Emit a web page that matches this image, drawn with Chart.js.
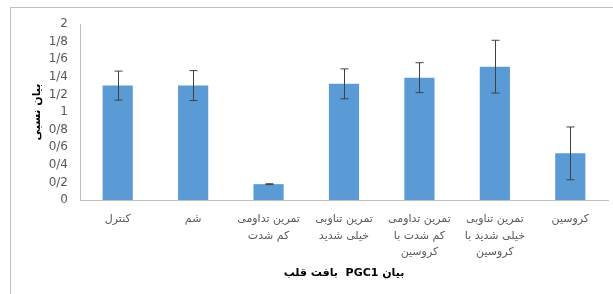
<!DOCTYPE html>
<html>
<head>
<meta charset="utf-8">
<script src="https://cdn.jsdelivr.net/npm/chart.js@4"></script>
<style>
  html, body { margin: 0; padding: 0; background: #fff; overflow: hidden; }
  #frame { position: absolute; left: 10px; top: 7px; width: 700px; height: 400px; border: 1px solid #bfbfbf; }
  #wrap { position: absolute; left: 0; top: 0; width: 613px; height: 294px; }
</style>
</head>
<body>
<div id="frame"></div>
<div id="wrap"><canvas id="myChart" dir="rtl" width="613" height="294"></canvas></div>
<script>
var groupLabels = [
    'کنترل',
    'شم',
    ['تمرین تداومی', 'کم شدت'],
    ['تمرین تناوبی', 'خیلی شدید'],
    ['تمرین تداومی', 'کم شدت با', 'کروسین'],
    ['تمرین تناوبی', 'خیلی شدید با', 'کروسین'],
    'کروسین'
];
var meanValues = [1.30, 1.30, 0.18, 1.32, 1.39, 1.515, 0.53];
var errorValues = [0.165, 0.17, 0.005, 0.17, 0.17, 0.30, 0.30];
var yTicks = [0, 0.2, 0.4, 0.6, 0.8, 1, 1.2, 1.4, 1.6, 1.8, 2];

var errorBars = {
    id: 'errorBars',
    afterDatasetsDraw: function(chart) {
        var ctx = chart.ctx;
        var meta = chart.getDatasetMeta(0);
        var y = chart.scales.y;
        ctx.save();
        ctx.strokeStyle = '#404040';
        ctx.lineWidth = 1;
        for (var i = 0; i < meanValues.length; i++) {
            var x = Math.round(meta.data[i].x) + 0.5;
            var top = y.getPixelForValue(meanValues[i] + errorValues[i]);
            var bottom = y.getPixelForValue(meanValues[i] - errorValues[i]);
            ctx.beginPath();
            ctx.moveTo(x, top);
            ctx.lineTo(x, bottom);
            ctx.moveTo(x - 4, top);
            ctx.lineTo(x + 4, top);
            ctx.moveTo(x - 4, bottom);
            ctx.lineTo(x + 4, bottom);
            ctx.stroke();
        }
        ctx.restore();
    }
};

var myChart = new Chart(document.getElementById('myChart'), {
    type: 'bar',
    data: {
        labels: groupLabels,
        datasets: [{
            data: meanValues,
            backgroundColor: '#5B9BD5',
            categoryPercentage: 1,
            barPercentage: 0.4
        }]
    },
    options: {
        responsive: false,
        animation: false,
        layout: { padding: { top: 24, right: 5, left: 0, bottom: 0 } },
        plugins: {
            legend: { display: false },
            tooltip: { enabled: false }
        },
        scales: {
            x: {
                grid: { display: false, drawTicks: false },
                border: { display: true, color: '#bfbfbf' },
                ticks: {
                    color: '#595959',
                    font: { family: 'DejaVu Sans', size: 11, lineHeight: 1.5 },
                    padding: 11,
                    maxRotation: 0,
                    autoSkip: false
                },
                title: {
                    display: true,
                    text: 'بیان PGC1  بافت قلب',
                    color: '#000',
                    font: { family: 'DejaVu Sans', size: 11, weight: 'bold' },
                    padding: { top: 0, bottom: 14 }
                },
                afterFit: function(scale) { scale.height = 94; }
            },
            y: {
                min: 0,
                max: 2,
                afterBuildTicks: function(scale) {
                    scale.ticks = yTicks.map(function(v) { return { value: v }; });
                },
                grid: { display: false, drawTicks: false },
                border: { display: true, color: '#bfbfbf' },
                ticks: {
                    color: '#595959',
                    font: { family: 'DejaVu Sans', size: 12 },
                    padding: 12,
                    callback: function(v) { return String(Math.round(v * 10) / 10).replace('.', '/'); }
                },
                title: {
                    display: true,
                    text: 'بیان نسبی',
                    color: '#000',
                    font: { family: 'DejaVu Sans', size: 11, weight: 'bold' },
                    padding: { top: 31, bottom: 0 }
                },
                afterFit: function(scale) { scale.width = 80; }
            }
        }
    },
    plugins: [errorBars]
});
</script>
</body>
</html>
